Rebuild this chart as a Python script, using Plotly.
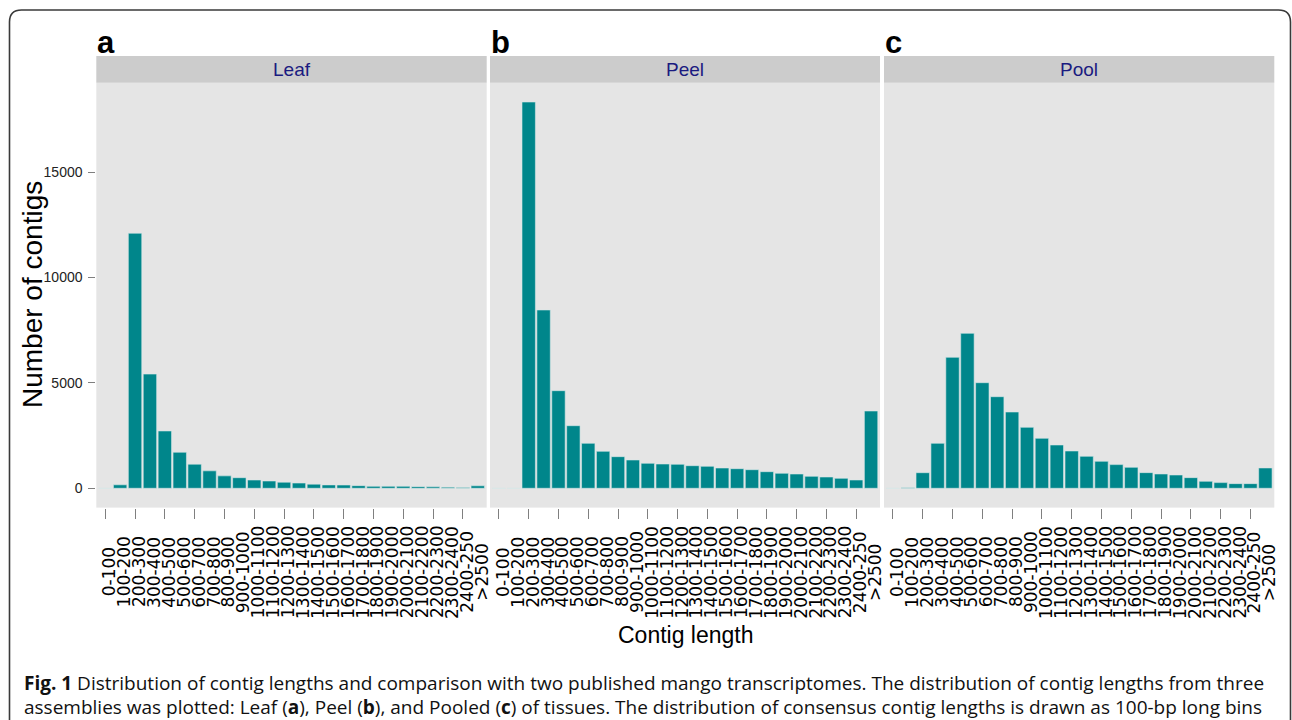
import plotly.graph_objects as go

# ---------------- data ----------------
categories = ["0-100", "100-200", "200-300", "300-400", "400-500", "500-600",
              "600-700", "700-800", "800-900", "900-1000", "1000-1100",
              "1100-1200", "1200-1300", "1300-1400", "1400-1500", "1500-1600",
              "1600-1700", "1700-1800", "1800-1900", "1900-2000", "2000-2100",
              "2100-2200", "2200-2300", "2300-2400", "2400-250", ">2500"]

leaf = [0, 165, 12100, 5420, 2720, 1710, 1145, 828, 590, 503, 394, 346, 290,
        250, 197, 160, 155, 125, 95, 95, 95, 78, 70, 55, 32, 118]

peel = [0, 0, 18326, 8460, 4631, 2970, 2135, 1755, 1500, 1343, 1186, 1153,
        1139, 1072, 1044, 963, 930, 882, 788, 712, 678, 569, 536, 474, 394, 3667]

pool = [0, 30, 740, 2135, 6215, 7353, 5010, 4346, 3620, 2894, 2372, 2055,
        1770, 1518, 1281, 1123, 996, 743, 680, 632, 506, 332, 269, 221, 221, 965]

panel_names = ["Leaf", "Peel", "Pool"]
panel_letters = ["a", "b", "c"]
y_ticks = [0, 5000, 10000, 15000]

caption_1 = ("<b>Fig. 1</b> Distribution of contig lengths and comparison with two published "
             "mango transcriptomes. The distribution of contig lengths from three")
caption_2 = ("assemblies was plotted: Leaf (<b>a</b>), Peel (<b>b</b>), and Pooled (<b>c</b>) "
             "of tissues. The distribution of consensus contig lengths is drawn as 100-bp long bins")

# ---------------- styling ----------------
W, H = 1292, 720
BAR = "#00868B"
PANEL_BG = "#E5E5E5"
STRIP_BG = "#CCCCCC"
TICK_COL = "#7f7f7f"
SANS = "Liberation Sans, Arial, sans-serif"


def px(x):
    return x / W


def py(y):
    return 1 - y / H


panel_x = [(96.3, 486.7), (490.0, 880.0), (884.0, 1274.3)]
plot_top, plot_bottom = 82.7, 507.6
strip_top = 56.0

fig = go.Figure()
series = [leaf, peel, pool]
for i, vals in enumerate(series):
    sfx = "" if i == 0 else str(i + 1)
    fig.add_trace(go.Bar(
        x=categories, y=vals, xaxis="x" + sfx, yaxis="y" + sfx,
        marker=dict(color=BAR, line=dict(color="rgba(215,232,232,1)", width=0.6)),
        width=0.9, showlegend=False, hoverinfo="x+y"))

layout = dict(
    width=W, height=H, margin=dict(l=0, r=0, t=0, b=0),
    paper_bgcolor="white", plot_bgcolor=PANEL_BG, template="none",
    showlegend=False,
)

for i in range(3):
    sfx = "" if i == 0 else str(i + 1)
    x0, x1 = panel_x[i]
    layout["xaxis" + sfx] = dict(
        domain=[px(x0), px(x1)], anchor="y" + sfx, type="category",
        range=[-0.6, 25.6], showticklabels=False, ticks="outside",
        ticklen=10, tickwidth=1.3, tickcolor=TICK_COL, showgrid=False,
        zeroline=False, showline=False, fixedrange=True,
    )
    yax = dict(
        domain=[py(plot_bottom), py(plot_top)], anchor="x" + sfx,
        range=[-916, 19242], showgrid=False, zeroline=False, showline=False,
        fixedrange=True,
    )
    if i == 0:
        yax.update(tickvals=y_ticks, ticktext=[str(v) for v in y_ticks],
                   ticks="outside", ticklen=7, tickwidth=1.3, tickcolor=TICK_COL,
                   ticklabelstandoff=3,
                   tickfont=dict(family=SANS, size=14, color="#222"))
    else:
        yax.update(matches="y", showticklabels=False, ticks="")
    layout["yaxis" + sfx] = yax

shapes = []
annotations = []

# strips + panel labels + x category labels
for i in range(3):
    x0, x1 = panel_x[i]
    shapes.append(dict(type="rect", xref="paper", yref="paper",
                       x0=px(x0), x1=px(x1), y0=py(plot_top), y1=py(strip_top),
                       fillcolor=STRIP_BG, line=dict(width=0), layer="below"))
    annotations.append(dict(xref="paper", yref="paper", x=px((x0 + x1) / 2),
                            y=py(69.5), text=panel_names[i], showarrow=False,
                            xanchor="center", yanchor="middle",
                            font=dict(family=SANS, size=19, color="#1a1a80")))
    annotations.append(dict(xref="paper", yref="paper", x=px(x0 - 1),
                            y=py(42), text="<b>" + panel_letters[i] + "</b>",
                            showarrow=False, xanchor="left", yanchor="middle",
                            font=dict(family=SANS, size=31, color="black")))
    sfx = "" if i == 0 else str(i + 1)
    for c in categories:
        annotations.append(dict(xref="x" + sfx, yref="paper", x=c, y=py(572),
                                text=c, textangle=-90, showarrow=False,
                                xanchor="center", yanchor="middle", xshift=4,
                                font=dict(family="DejaVu Sans", size=17,
                                          color="black")))

# axis titles
annotations.append(dict(xref="paper", yref="paper", x=px(32), y=py(295),
                        text="Number of contigs", textangle=-90, showarrow=False,
                        xanchor="center", yanchor="middle",
                        font=dict(family=SANS, size=28, color="black")))
annotations.append(dict(xref="paper", yref="paper", x=px(686), y=py(635),
                        text="Contig length", showarrow=False,
                        xanchor="center", yanchor="middle",
                        font=dict(family=SANS, size=23, color="black")))

# caption
annotations.append(dict(xref="paper", yref="paper", x=px(22), y=py(683),
                        text=caption_1, showarrow=False, xanchor="left",
                        yanchor="middle",
                        font=dict(family="Open Sans", size=19, color="#111")))
annotations.append(dict(xref="paper", yref="paper", x=px(22), y=py(707),
                        text=caption_2, showarrow=False, xanchor="left",
                        yanchor="middle",
                        font=dict(family="Open Sans", size=19, color="#111")))

# outer rounded frame (bottom continues past page)
r = 12
L, R, T, B = 9.5, 1290.5, 10.0, 760.0
path = (f"M {px(L)},{py(B)} L {px(L)},{py(T + r)} "
        f"Q {px(L)},{py(T)} {px(L + r)},{py(T)} "
        f"L {px(R - r)},{py(T)} Q {px(R)},{py(T)} {px(R)},{py(T + r)} "
        f"L {px(R)},{py(B)}")
shapes.append(dict(type="path", xref="paper", yref="paper", path=path,
                   line=dict(color="#3a3a3a", width=1.6)))

layout["shapes"] = shapes
layout["annotations"] = annotations
fig.update_layout(**layout)

fig.write_html(
    "out.html",
    config={"displayModeBar": False},
    post_script="document.body.style.margin='0';document.body.style.overflow='hidden';",
)
